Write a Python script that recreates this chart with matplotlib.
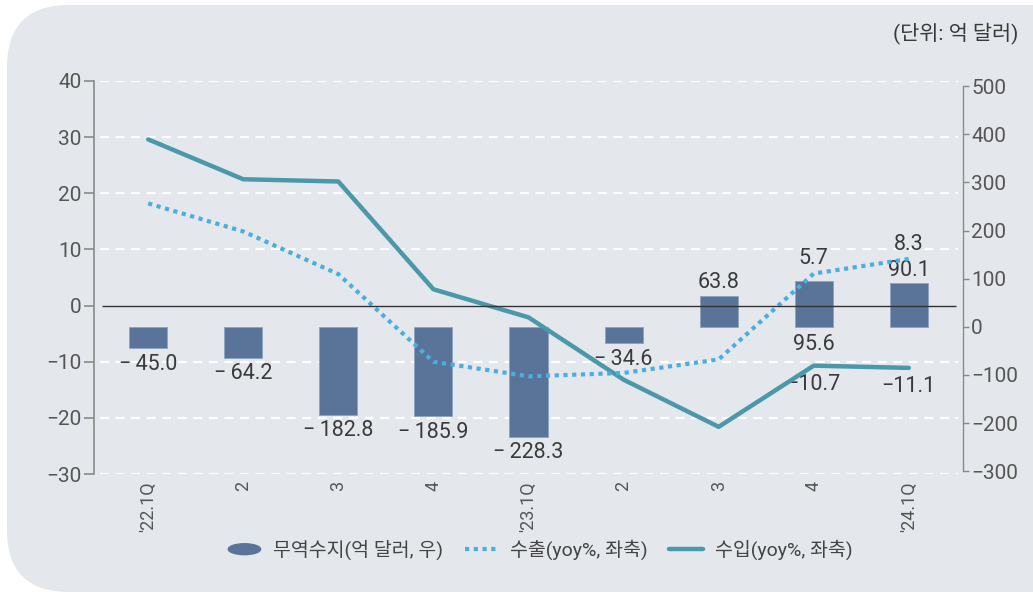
import matplotlib
matplotlib.use("Agg")
import matplotlib.pyplot as plt
import matplotlib.patches as mpatches
import matplotlib.transforms as mtransforms
from matplotlib.legend_handler import HandlerPatch
from matplotlib.lines import Line2D

plt.rcParams['font.family'] = ['Roboto', 'Noto Sans CJK KR', 'DejaVu Sans']

# data
quarters = ["'22.1Q", "2", "3", "4", "'23.1Q", "2", "3", "4", "'24.1Q"]
balance = [-45.0, -64.2, -182.8, -185.9, -228.3, -34.6, 63.8, 95.6, 90.1]   # 억 달러, right axis
exports = [18.2, 13.2, 5.6, -10.0, -12.6, -12.0, -9.6, 5.7, 8.3]            # yoy %, left axis
imports = [29.6, 22.5, 22.1, 2.9, -2.1, -13.2, -21.6, -10.7, -11.1]          # yoy %, left axis
left_ticks = [-30, -20, -10, 0, 10, 20, 30, 40]
right_ticks = [-300, -200, -100, 0, 100, 200, 300, 400, 500]

BAR = '#5a7499'
EXP = '#4aaee0'
IMP = '#4a98aa'
TXT = '#3a3a3a'
AX = '#8a8a8a'
BG = '#e4e8ec'

fig = plt.figure(figsize=(10.33, 5.92), dpi=100)
fig.patch.set_facecolor('white')
panel = mpatches.FancyBboxPatch((7 / 1033, 0), 1.2, 1 - 5 / 592,
                                boxstyle=mpatches.BoxStyle('Round', pad=0, rounding_size=0.06),
                                transform=fig.transFigure, facecolor=BG, edgecolor='none',
                                mutation_aspect=1033 / 592, zorder=-5)
fig.patches.append(panel)

ax2 = fig.add_axes([94 / 1033, 1 - 474 / 592, (963 - 94) / 1033, (474 - 81) / 592])
ax = ax2.twinx()
ax.yaxis.set_ticks_position('left')
ax.yaxis.set_label_position('left')
ax2.yaxis.set_ticks_position('right')
ax.set_zorder(ax2.get_zorder() + 1)
for a in (ax, ax2):
    a.patch.set_visible(False)

x = list(range(len(quarters)))
ax.set_xlim(-0.57, 8.57)
ax2.set_xlim(-0.57, 8.57)
ax.set_ylim(-30, 40)
ax2.set_ylim(-306, 511)

# grid (in left-axis units) drawn under the bars
blend = mtransforms.blended_transform_factory(ax2.transData, ax.transData)
ax2.hlines([v for v in left_ticks if v != 0], -0.505, 8.515, transform=blend,
           colors='white', linestyles=(0, (4, 3)), linewidth=1.6, zorder=1)

bars = ax2.bar(x, balance, width=0.4, color=BAR, edgecolor='#8ea2bf', linewidth=0.6, zorder=2)

ax.hlines(0, -0.49, 8.5, colors='#333333', linewidth=1.0, zorder=5)
ax.plot(x, imports, color=IMP, linewidth=3.2, solid_capstyle='round', zorder=4)
ax.plot(x, exports, color=EXP, linewidth=3.0, linestyle=(0, (1, 1.1)), zorder=4)

# bar labels
fs = 15.5
for i, v in enumerate(balance):
    txt = f'{v:.1f}'.replace('-', '\u2212\u2009')
    if i == 7:
        ax2.annotate(txt, (i, 0), xytext=(0, -5), textcoords='offset points',
                     ha='center', va='top', fontsize=fs, color=TXT)
    elif v < 0:
        ax2.annotate(txt, (i, v), xytext=(0, -4), textcoords='offset points',
                     ha='center', va='top', fontsize=fs, color=TXT)
    else:
        ax2.annotate(txt, (i, v), xytext=(0, 2), textcoords='offset points',
                     ha='center', va='bottom', fontsize=fs, color=TXT)
for i in (7, 8):
    ax.annotate(f'{exports[i]:.1f}', (i, exports[i]), xytext=(0, 3), textcoords='offset points',
                ha='center', va='bottom', fontsize=fs, color=TXT)
    ax.annotate(f'{imports[i]:.1f}'.replace('-', '\u2212'), (i, imports[i]), xytext=(0, -6),
                textcoords='offset points', ha='center', va='top', fontsize=fs, color=TXT)

# axes styling
for a in (ax, ax2):
    for s in ('top', 'bottom'):
        a.spines[s].set_visible(False)
ax.spines['right'].set_visible(False)
ax2.spines['left'].set_visible(False)
ax.spines['left'].set_color(AX)
ax.spines['left'].set_linewidth(1.2)
ax2.spines['right'].set_color(AX)
ax2.spines['right'].set_linewidth(1.0)
ax2.spines['right'].set_bounds(-300, 500)

ax.set_yticks(left_ticks)
ax.set_yticklabels([str(v).replace('-', '\u2212') for v in left_ticks])
ax.tick_params(axis='y', length=7, width=1.2, color=AX, labelsize=15, labelcolor='#555555', pad=2)
ax2.set_yticks(right_ticks)
ax2.set_yticklabels([str(v).replace('-', '\u2212') for v in right_ticks])
ax2.tick_params(axis='y', length=4, width=1.0, color=AX, labelsize=15, labelcolor='#555555', pad=2)

ax2.set_xticks(x)
ax2.set_xticklabels(quarters, rotation=90, va='top', ha='center')
ax2.tick_params(axis='x', length=0, labelsize=13, labelcolor='#555555', pad=5)
ax.tick_params(axis='x', length=0, labelbottom=False)

fig.text(1018 / 1033, 1 - 33 / 592, '(단위: 억 달러)', ha='right', va='center', fontsize=15, color=TXT)


def ellipse_handle(legend, orig_handle, xdescent, ydescent, width, height, fontsize):
    return mpatches.Ellipse((width / 2 - xdescent, height / 2 - ydescent), width=width * 0.95, height=height * 0.8)


handles = [mpatches.Patch(color=BAR),
           Line2D([], [], color=EXP, linewidth=3.0, linestyle=(0, (1, 1.1))),
           Line2D([], [], color=IMP, linewidth=3.2, solid_capstyle='round')]
labels = ['무역수지(억 달러, 우)', '수출(yoy%, 좌축)', '수입(yoy%, 좌축)']
fig.legend(handles, labels, loc='center', bbox_to_anchor=(540 / 1033, 1 - 550 / 592), ncol=3,
           frameon=False, fontsize=14, labelcolor='#444444', handlelength=1.75, handletextpad=0.6,
           columnspacing=1.1, handler_map={mpatches.Patch: HandlerPatch(patch_func=ellipse_handle)})

fig.savefig('out.png', dpi=100, facecolor=fig.get_facecolor())
